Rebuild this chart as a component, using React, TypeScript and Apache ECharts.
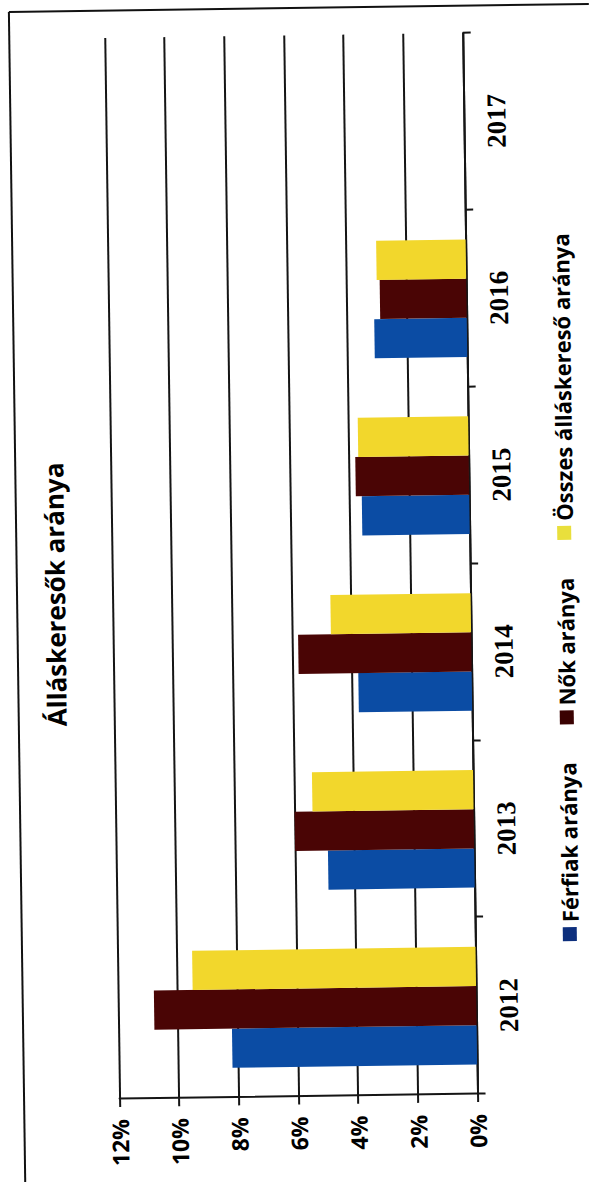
import React, { useEffect, useRef } from "react";
import * as echarts from "echarts";

const years = ["2012", "2013", "2014", "2015", "2016", "2017"];
const ferfiak = [8.2, 4.9, 3.8, 3.6, 3.1, null];
const nok = [10.8, 6.0, 5.8, 3.8, 2.9, null];
const osszes = [9.5, 5.4, 4.7, 3.7, 3.0, null];
const seriesNames = ["Férfiak aránya", "Nők aránya", "Összes álláskereső aránya"];
const titleText = "Álláskeresők aránya";
const valueMin = 0;
const valueMax = 12;
const valueStep = 2;

export default function App() {
  const ref = useRef<HTMLDivElement>(null);
  useEffect(() => {
    const chart = echarts.init(ref.current!, null, { renderer: "svg" });
    const lineColor = "#151515";
    const sans = "'Open Sans', 'Noto Sans', sans-serif";
    chart.setOption({
      animation: false,
      backgroundColor: "#ffffff",
      title: {
        text: titleText,
        left: "center",
        top: 37,
        textStyle: { fontFamily: sans, fontWeight: "bold", fontSize: 26, color: "#000" },
      },
      legend: {
        left: "center",
        top: 549,
        icon: "rect",
        itemWidth: 14,
        itemHeight: 14,
        itemGap: 38,
        textStyle: { fontFamily: sans, fontWeight: "bold", fontSize: 22, color: "#000" },
        data: [
          { name: seriesNames[0], itemStyle: { color: "#0d2f7d" } },
          { name: seriesNames[1], itemStyle: { color: "#3a0202" } },
          { name: seriesNames[2], itemStyle: { color: "#e9df3c" } },
        ],
      },
      grid: { left: 85.5, right: 35.3, top: 112.5, bottom: 127.5 },
      xAxis: {
        type: "category",
        data: years,
        axisLine: { show: true, lineStyle: { color: lineColor, width: 2 } },
        axisTick: { show: true, length: 8, lineStyle: { color: lineColor, width: 2 } },
        axisLabel: {
          margin: 19,
          fontFamily: "'Liberation Serif', serif",
          fontWeight: "bold",
          fontSize: 27,
          color: "#000",
        },
      },
      yAxis: {
        type: "value",
        min: valueMin,
        max: valueMax,
        interval: valueStep,
        axisLine: { show: true, lineStyle: { color: lineColor, width: 2 } },
        axisTick: { show: true, length: 8, lineStyle: { color: lineColor, width: 2 } },
        splitLine: { show: true, lineStyle: { color: lineColor, width: 2 } },
        axisLabel: {
          margin: 20,
          formatter: "{value}%",
          fontFamily: sans,
          fontWeight: "bold",
          fontSize: 23,
          color: "#000",
        },
      },
      graphic: [
        { type: "line", shape: { x1: 2, y1: 17, x2: 1174, y2: 17 }, style: { stroke: "#111", lineWidth: 2 } },
        { type: "line", shape: { x1: 1174, y1: 17, x2: 1174, y2: 597 }, style: { stroke: "#111", lineWidth: 2 } },
      ],
      series: [
        {
          name: seriesNames[0],
          type: "bar",
          data: ferfiak,
          barGap: "0%",
          barCategoryGap: "33.5%",
          itemStyle: { color: "#0b4ca4" },
        },
        {
          name: seriesNames[1],
          type: "bar",
          data: nok,
          barGap: "0%",
          barCategoryGap: "33.5%",
          itemStyle: { color: "#4a0505" },
        },
        {
          name: seriesNames[2],
          type: "bar",
          data: osszes,
          barGap: "0%",
          barCategoryGap: "33.5%",
          itemStyle: { color: "#f2d72c" },
        },
      ],
    });
    return () => chart.dispose();
  }, []);
  return (
    <div
      style={{
        position: "fixed",
        left: 0,
        top: 0,
        width: 598,
        height: 1182,
        overflow: "hidden",
        background: "#fff",
      }}
    >
      <div
        ref={ref}
        style={{
          position: "absolute",
          left: -292,
          top: 292,
          width: 1182,
          height: 598,
          transform: "rotate(-90.8deg)",
        }}
      />
    </div>
  );
}
